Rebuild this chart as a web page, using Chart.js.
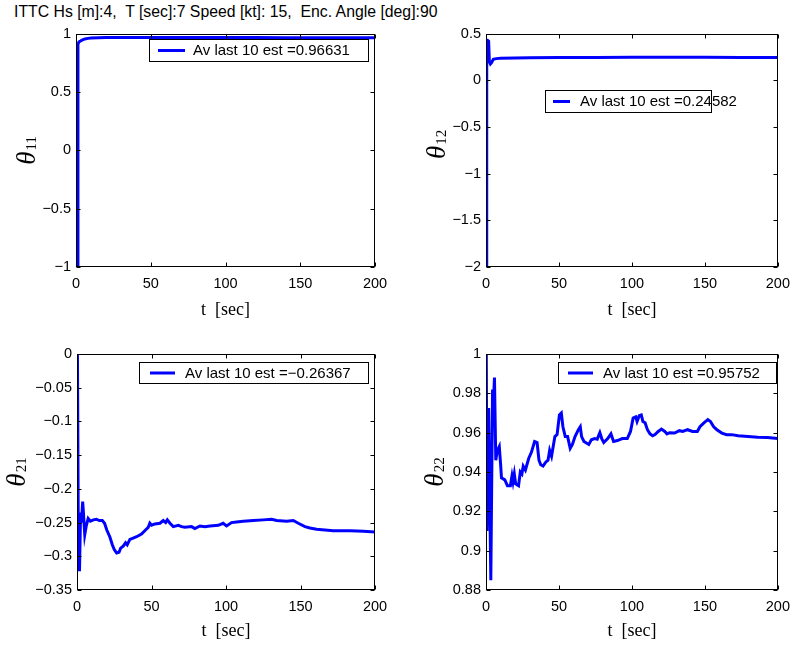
<!DOCTYPE html>
<html>
<head>
<meta charset="utf-8">
<script src="https://cdn.jsdelivr.net/npm/chart.js@4.4.0/dist/chart.umd.min.js"></script>
<style>
  body { margin: 0; background: #fff; }
  #page { position: relative; width: 798px; height: 647px; overflow: hidden; background: #fff; }
  #title { position: absolute; left: 14px; top: 3px; font: 15.8px "Liberation Sans", Arial, sans-serif; line-height: 18px; white-space: pre; color: #000; }
  canvas { position: absolute; }
</style>
</head>
<body>
<div id="page">
  <div id="title">ITTC Hs [m]:4,  T [sec]:7 Speed [kt]: 15,  Enc. Angle [deg]:90</div>
  <canvas id="c11" width="400" height="310" style="left:0;top:20px"></canvas>
  <canvas id="c12" width="398" height="310" style="left:400px;top:20px"></canvas>
  <canvas id="c21" width="400" height="317" style="left:0;top:330px"></canvas>
  <canvas id="c22" width="398" height="317" style="left:400px;top:330px"></canvas>
</div>
<script>
// --- data (t in sec) ---
const t11 = [0.7, 1.3, 2.0, 3, 4, 6, 8, 10, 15, 20, 30, 40, 50, 60, 80, 100, 120, 140, 160, 180, 200];
const theta11 = [-1.0, 0.91, 0.93, 0.937, 0.945, 0.955, 0.96, 0.963, 0.966, 0.967, 0.968, 0.968, 0.968, 0.967, 0.967, 0.967, 0.967, 0.966, 0.966, 0.966, 0.966];

const t12 = [0.2, 0.5, 1.0, 1.8, 2.3, 3.0, 3.8, 5, 7, 10, 20, 30, 50, 75, 100, 125, 150, 175, 200];
const theta12 = [-2.0, 0.43, 0.43, 0.42, 0.2, 0.175, 0.19, 0.225, 0.233, 0.236, 0.24, 0.243, 0.245, 0.246, 0.247, 0.247, 0.247, 0.246, 0.246];

const t21 = [0.3, 1.0, 1.7, 2.4, 3.0, 3.8, 4.3, 5.2, 6.2, 7.5, 9, 11, 13, 15, 17, 18.5, 20, 22, 23.7, 25,
  26.6, 28.2, 29.3, 31, 32.6, 33.7, 35.5, 37.7, 40, 43.3, 46, 47.8, 48.9, 50, 52.3, 55.7, 57.9, 59.5, 60.6, 62.4,
  64.6, 68, 70.2, 72.4, 76.9, 79.1, 82.5, 85.8, 89.2, 94.8, 98.1, 100.4, 103.7, 107.1, 111.6, 118.3, 125, 130.6, 134, 140.7,
  145.2, 148.5, 153, 156.3, 160.8, 166.4, 172, 183.2, 192.2, 200];
const theta21 = [0, -0.32, -0.32, -0.235, -0.25, -0.219, -0.235, -0.268, -0.255, -0.244, -0.248, -0.246, -0.245, -0.247, -0.247, -0.251, -0.261, -0.271, -0.283, -0.29,
  -0.295, -0.294, -0.288, -0.285, -0.28, -0.283, -0.275, -0.273, -0.271, -0.267, -0.261, -0.257, -0.251, -0.254, -0.252, -0.251, -0.247, -0.25, -0.246, -0.251,
  -0.256, -0.254, -0.256, -0.257, -0.256, -0.259, -0.255, -0.256, -0.255, -0.254, -0.251, -0.255, -0.25, -0.249, -0.248, -0.247, -0.246, -0.245, -0.247, -0.248,
  -0.247, -0.251, -0.256, -0.258, -0.26, -0.261, -0.262, -0.262, -0.263, -0.264];

const t22 = [0.2, 0.7, 1.8, 3.3, 4.5, 5.1, 5.8, 6.7, 7.8, 9.1, 10, 10.6, 12.9, 14.7, 16.7, 17.8, 18.5, 19.4, 20.3, 22.3,
  23.5, 24.6, 25.5, 27, 29.3, 31.1, 33.3, 35, 36.3, 37.5, 39.1, 40.9, 42.5, 43.6, 44.9, 45.8, 47.2, 48.7, 50.3, 51.6,
  52.7, 54.3, 55.9, 57.7, 59.2, 61, 63.3, 64.6, 65.5, 67.1, 68.8, 70.4, 72.2, 74.4, 76.2, 78, 79.3, 80.7, 83.4, 85.6,
  87.4, 90, 93.4, 96.8, 99, 100.8, 102.6, 103.5, 105, 106.4, 107.5, 109, 110.6, 112.4, 114.2, 115.8, 118, 120.2, 122.5, 124,
  125.8, 129.2, 132.5, 134.8, 138.1, 141.5, 144.8, 146.6, 149.3, 152, 153.8, 156, 158.2, 161.6, 164.9, 168.3, 172.8, 179.5, 186.2, 192.9,
  200];
const theta22 = [1.0, 0.91, 0.9725, 0.885, 0.982, 0.975, 0.988, 0.946, 0.951, 0.953, 0.944, 0.937, 0.936, 0.933, 0.933, 0.938, 0.935, 0.939, 0.934, 0.933,
  0.940, 0.939, 0.943, 0.941, 0.947, 0.950, 0.9555, 0.955, 0.946, 0.9437, 0.943, 0.945, 0.946, 0.951, 0.948, 0.952, 0.958, 0.959, 0.969, 0.970,
  0.963, 0.958, 0.958, 0.952, 0.954, 0.958, 0.9615, 0.963, 0.958, 0.9555, 0.9547, 0.954, 0.9564, 0.957, 0.9567, 0.960, 0.957, 0.955, 0.957, 0.9594,
  0.9555, 0.956, 0.957, 0.957, 0.9606, 0.9674, 0.968, 0.9657, 0.9686, 0.969, 0.9657, 0.965, 0.9615, 0.9594, 0.9584, 0.959, 0.9606, 0.9618, 0.9606, 0.9594,
  0.960, 0.9598, 0.961, 0.9606, 0.9615, 0.9606, 0.9606, 0.963, 0.965, 0.9666, 0.9657, 0.963, 0.9615, 0.9598, 0.959, 0.959, 0.9584, 0.958, 0.9577, 0.9576,
  0.957];

const legendLabels = ['Av last 10 est =0.96631', 'Av last 10 est =0.24582', 'Av last 10 est =\u22120.26367', 'Av last 10 est =0.95752'];
const ySubscripts = ['11', '12', '21', '22'];
const yRanges = [[-1, 1, 0.5], [-2, 0.5, 0.5], [-0.35, 0, 0.05], [0.88, 1, 0.02]];
const xRange = [0, 200, 50];

Chart.defaults.font.family = '"Liberation Sans", Arial, sans-serif';
Chart.defaults.color = '#000';

function fmtTick(v) {
    return String(Math.round(v * 1000) / 1000).replace('-', '\u2212');
}

// Boîte façon MATLAB : cadre, graduations internes, titre Y, légende
const matlabAxes = {
    id: 'matlabAxes',
    afterDraw(chart, args, opts) {
        const { ctx, chartArea: a, scales } = chart;
        const L = Math.round(a.left) + 0.5, T = Math.round(a.top) + 0.5;
        const R = Math.round(a.right) - 0.5, B = Math.round(a.bottom) - 0.5;
        ctx.save();
        ctx.strokeStyle = '#000';
        ctx.lineWidth = 1;
        ctx.strokeRect(L, T, R - L, B - T);
        const len = 4;
        ctx.beginPath();
        scales.x.ticks.forEach(tk => {
            const px = Math.round(scales.x.getPixelForValue(tk.value)) + 0.5;
            ctx.moveTo(px, B); ctx.lineTo(px, B - len);
            ctx.moveTo(px, T); ctx.lineTo(px, T + len);
        });
        scales.y.ticks.forEach(tk => {
            const py = Math.round(scales.y.getPixelForValue(tk.value)) + 0.5;
            ctx.moveTo(L, py); ctx.lineTo(L + len, py);
            ctx.moveTo(R, py); ctx.lineTo(R - len, py);
        });
        ctx.stroke();

        // titre Y : theta + indice
        ctx.save();
        ctx.translate(opts.titleX, (a.top + a.bottom) / 2 + opts.titleDy);
        ctx.rotate(-Math.PI / 2);
        const fTheta = 'italic 27px "Liberation Serif", serif';
        const fSub = '15px "Liberation Serif", serif';
        ctx.font = fTheta;
        const w1 = ctx.measureText('\u03B8').width;
        ctx.font = fSub;
        const w2 = ctx.measureText(opts.sub).width;
        const x0 = -(w1 + w2 + 1) / 2;
        ctx.fillStyle = '#000';
        ctx.textBaseline = 'alphabetic';
        ctx.font = fTheta;
        ctx.fillText('\u03B8', x0, 0);
        ctx.font = fSub;
        ctx.fillText(opts.sub, x0 + w1 + 1, 1);
        ctx.restore();

        // légende
        const g = opts.legend;
        ctx.fillStyle = '#fff';
        ctx.fillRect(g.x, g.y, g.w, g.h);
        ctx.strokeStyle = '#000';
        ctx.lineWidth = 1;
        ctx.strokeRect(g.x + 0.5, g.y + 0.5, g.w, g.h);
        ctx.strokeStyle = '#0000ff';
        ctx.lineWidth = 3;
        ctx.beginPath();
        ctx.moveTo(g.x + g.l0, g.y + g.h / 2 + 0.5);
        ctx.lineTo(g.x + g.l1, g.y + g.h / 2 + 0.5);
        ctx.stroke();
        ctx.fillStyle = '#000';
        ctx.font = '15px "Liberation Sans", Arial, sans-serif';
        ctx.textBaseline = 'middle';
        ctx.fillText(opts.label, g.x + g.tx, g.y + g.h / 2 + 1);
        ctx.restore();
    }
};

function makeChart(id, xs, ys, idx, lay) {
    const [yMin, yMax, yStep] = yRanges[idx];
    return new Chart(document.getElementById(id), {
        type: 'line',
        data: {
            datasets: [{
                data: xs.map((x, i) => ({ x, y: ys[i] })),
                borderColor: '#0000ff',
                borderWidth: 3,
                pointRadius: 0,
                tension: 0,
                fill: false
            }]
        },
        options: {
            responsive: false,
            animation: false,
            layout: { padding: { left: 0, right: lay.padRight, top: lay.padTop, bottom: 0 } },
            plugins: {
                legend: { display: false },
                tooltip: { enabled: false },
                matlabAxes: { titleX: lay.titleX, titleDy: lay.titleDy, sub: ySubscripts[idx], legend: lay.legend, label: legendLabels[idx] }
            },
            scales: {
                x: {
                    type: 'linear',
                    min: xRange[0], max: xRange[1],
                    grid: { display: false, drawTicks: false },
                    border: { display: false },
                    ticks: { stepSize: xRange[2], padding: 8, font: { size: 14.5 }, maxRotation: 0, callback: v => fmtTick(v) },
                    title: { display: true, text: 't  [sec]', font: { family: '"Liberation Serif", serif', size: 18 }, padding: { top: 0, bottom: lay.xTitlePad } },
                    afterFit: s => { s.height = lay.xHeight; }
                },
                y: {
                    min: yMin, max: yMax,
                    grid: { display: false, drawTicks: false },
                    border: { display: false },
                    ticks: { stepSize: yStep, padding: 5, font: { size: 14.5 }, autoSkip: false, callback: v => fmtTick(v) },
                    afterFit: s => { s.width = lay.yWidth; }
                }
            }
        },
        plugins: [matlabAxes]
    });
}

makeChart('c11', t11, theta11, 0, {
    yWidth: 76, padRight: 25, padTop: 12, xHeight: 63, xTitlePad: 9, titleX: 35, titleDy: 0,
    legend: { x: 149, y: 19, w: 219, h: 22, l0: 9, l1: 36, tx: 44 }
});
makeChart('c12', t12, theta12, 1, {
    yWidth: 86, padRight: 14, padTop: 12, xHeight: 63, xTitlePad: 9, titleX: 45, titleDy: -6,
    legend: { x: 145, y: 70, w: 166, h: 22, l0: 8, l1: 25, tx: 35 }
});
makeChart('c21', t21, theta21, 2, {
    yWidth: 77, padRight: 25, padTop: 24, xHeight: 57, xTitlePad: 5, titleX: 25, titleDy: 0,
    legend: { x: 139, y: 32, w: 229, h: 21, l0: 11, l1: 36, tx: 46 }
});
makeChart('c22', t22, theta22, 3, {
    yWidth: 86, padRight: 14, padTop: 24, xHeight: 57, xTitlePad: 5, titleX: 43, titleDy: 0,
    legend: { x: 158, y: 32, w: 218, h: 21, l0: 10, l1: 35, tx: 45 }
});
</script>
</body>
</html>
